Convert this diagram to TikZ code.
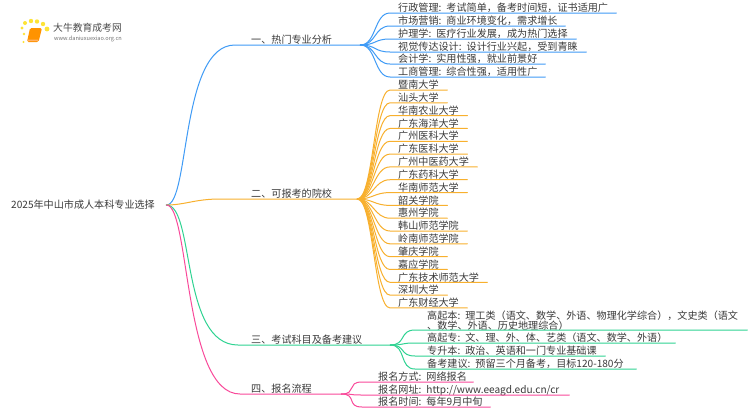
\documentclass[tikz,border=0pt]{standalone}
\usepackage{fontspec}
\setmainfont{Noto Sans CJK SC}
\usetikzlibrary{calc}
\definecolor{cblue}{HTML}{3F9BF6}
\definecolor{corange}{HTML}{F8B02E}
\definecolor{cgreen}{HTML}{2FD392}
\definecolor{cpink}{HTML}{F9499A}
\definecolor{ctext}{HTML}{3A3A3A}
\tikzset{
  txt/.style={anchor=south west,inner xsep=0pt,inner ysep=0.1pt,text depth=1pt,align=left,text=ctext,
    font=\fontsize{10.1}{9}\selectfont},
  link/.style={line width=1pt,line cap=round},
}
% name, hub, colour, flat-part offset, text x, end x, underline y, text
\newcommand{\leafnode}[8]{%
  \pgfmathsetmacro{\leafw}{#6-#5}%
  \node[txt,text width=\leafw pt] (#1) at (#5,#7) {#8};
  \draw[link,#3] (#2) .. controls +(16,0) and ([xshift=-#4pt-16pt]#1.south west) ..
     ([xshift=-#4 pt]#1.south west) -- (#1.south east);
}
\begin{document}
\begin{tikzpicture}[x=1pt,y=-1pt]
\useasboundingbox (0,0) rectangle (750,410);
\fill[white] (0,0) rectangle (750,410);

% logo
\foreach \a/\b/\r in {24/34/1.3,22/28/1.7,25/23/2,31/21/2.2,37/21.5/2.2,43/24/2.2,47/29/2.4,23.5/42/1.2}
  \fill[yellow!80!orange,opacity=.8] (\a,\b) circle (\r);
\fill[orange!85!yellow,rounded corners=1.5pt] (30,28) -- (42,28) -- (38.5,42) -- (27,42) -- cycle;
\fill[orange!60!white] (28,39.5) -- (38,39.5) -- (38,41) -- (27.5,41) -- cycle;
\node[anchor=west,inner sep=0pt,font=\fontsize{9.8}{10}\selectfont,text=black!70] (logoa) at (53,27.5) {大牛教育成考网};
\node[anchor=west,inner sep=0pt,font=\fontsize{5.6}{6}\selectfont,text=black!55] (logob) at (54,39) {www.daniuxuexiao.org.cn};

% root and main branches
\node[txt,anchor=west,text width=155pt,inner ysep=0pt] (root) at (11,205) {2025年中山市成人本科专业选择};
\node[txt,text width=109pt] (m1) at (251,45) {一、热门专业分析};
\node[txt,text width=106pt] (m2) at (251,199) {二、可报考的院校};
\node[txt,text width=139pt] (m3) at (251,345) {三、考试科目及备考建议};
\node[txt,text width=90pt]  (m4) at (251,394) {四、报名流程};
\draw[link,cblue] (root.east) .. controls (190,205) and (180,45) .. (235,45) -- (m1.south west) -- (m1.south east);
\draw[link,corange] (root.east) .. controls (185,205) and (195,199) .. (220,199) -- (m2.south west) -- (m2.south east);
\draw[link,cgreen] (root.east) .. controls (195,205) and (180,345) .. (238,345) -- (m3.south west) -- (m3.south east);
\draw[link,cpink] (root.east) .. controls (190,205) and (183,394) .. (240,394) -- (m4.south west) -- (m4.south east);

% branch 1
\leafnode{a1}{m1.south east}{cblue}{8}{398}{616}{13}{行政管理: 考试简单，备考时间短，证书适用广}
\leafnode{a2}{m1.south east}{cblue}{8}{398}{565}{26}{市场营销: 商业环境变化，需求增长}
\leafnode{a3}{m1.south east}{cblue}{8}{398}{576}{39}{护理学: 医疗行业发展，成为热门选择}
\leafnode{a4}{m1.south east}{cblue}{8}{398}{586}{52}{视觉传达设计: 设计行业兴起，受到青睐}
\leafnode{a5}{m1.south east}{cblue}{8}{398}{545}{64}{会计学: 实用性强，就业前景好}
\leafnode{a6}{m1.south east}{cblue}{8}{398}{545}{77}{工商管理: 综合性强，适用性广}

% branch 2
\foreach \i/\e/\t in {0/447/暨南大学,1/447/汕头大学,2/467/华南农业大学,3/467/广东海洋大学,4/467/广州医科大学,5/467/广东医科大学,6/477/广州中医药大学,7/467/广东药科大学,8/467/华南师范大学,9/447/韶关学院,10/447/惠州学院,11/467/韩山师范学院,12/467/岭南师范学院,13/447/肇庆学院,14/447/嘉应学院,15/487/广东技术师范大学,16/447/深圳大学,17/467/广东财经大学}{
  \pgfmathsetmacro{\yy}{90+\i*12.82}
  \leafnode{b\i}{m2.south east}{corange}{8}{398}{\e}{\yy}{\t}
}

% branch 3
\begin{scope}[txt/.append style={text depth=10.5pt}]
\leafnode{c1}{m3.south east}{cgreen}{12}{427}{747}{330}{高起本: 理工类（语文、数学、外语、物理化学综合），文史类（语文\\、数学、外语、历史地理综合）}
\end{scope}
\leafnode{c2}{m3.south east}{cgreen}{12}{427}{675}{343}{高起专: 文、理、外、体、艺类（语文、数学、外语）}
\leafnode{c3}{m3.south east}{cgreen}{12}{427}{605}{356}{专升本: 政治、英语和一门专业基础课}
\leafnode{c4}{m3.south east}{cgreen}{12}{427}{636}{369}{备考建议: 预留三个月备考，目标120-180分}

% branch 4
\leafnode{d1}{m4.south east}{cpink}{16}{378}{473}{382}{报名方式: 网络报名}
\leafnode{d2}{m4.south east}{cpink}{16}{378}{569}{395}{报名网址: http://www.eeagd.edu.cn/cr}
\leafnode{d3}{m4.south east}{cpink}{16}{378}{490}{407}{报名时间: 每年9月中旬}
\end{tikzpicture}
\end{document}
